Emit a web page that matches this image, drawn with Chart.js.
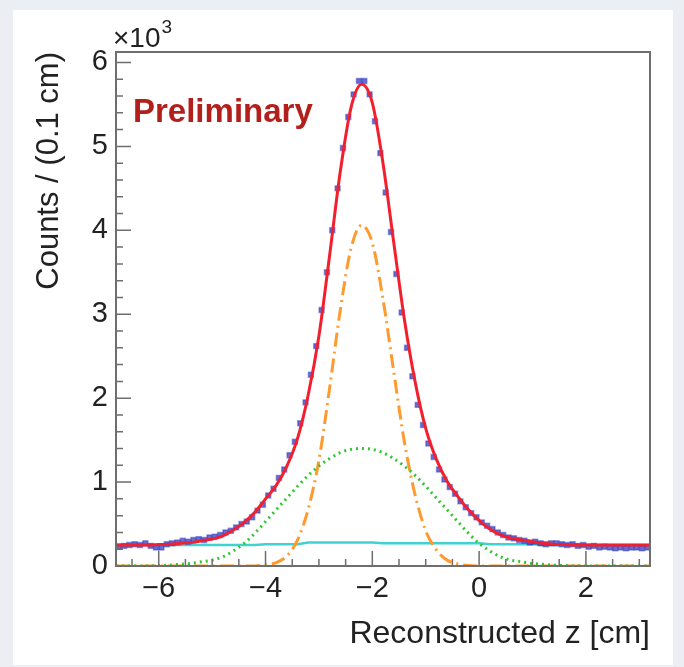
<!DOCTYPE html>
<html>
<head>
<meta charset="utf-8">
<script src="https://cdn.jsdelivr.net/npm/chart.js@4.4.1/dist/chart.umd.min.js"></script>
<style>
  html, body { margin: 0; padding: 0; background: #ebeef3; }
  #wrap { width: 684px; height: 667px; }
</style>
</head>
<body>
<div id="wrap"><canvas id="zChart" width="684" height="667"></canvas></div>
<script>
// histogram bin centres (0.1 cm bins) and counts
const binCenters = [
  -6.75, -6.65, -6.55, -6.45, -6.35, -6.25, -6.15, -6.05, -5.95, -5.85,
  -5.75, -5.65, -5.55, -5.45, -5.35, -5.25, -5.15, -5.05, -4.95, -4.85,
  -4.75, -4.65, -4.55, -4.45, -4.35, -4.25, -4.15, -4.05, -3.95, -3.85,
  -3.75, -3.65, -3.55, -3.45, -3.35, -3.25, -3.15, -3.05, -2.95, -2.85,
  -2.75, -2.65, -2.55, -2.45, -2.35, -2.25, -2.15, -2.05, -1.95, -1.85,
  -1.75, -1.65, -1.55, -1.45, -1.35, -1.25, -1.15, -1.05, -0.95, -0.85,
  -0.75, -0.65, -0.55, -0.45, -0.35, -0.25, -0.15, -0.05, 0.05, 0.15,
  0.25, 0.35, 0.45, 0.55, 0.65, 0.75, 0.85, 0.95, 1.05, 1.15,
  1.25, 1.35, 1.45, 1.55, 1.65, 1.75, 1.85, 1.95, 2.05, 2.15,
  2.25, 2.35, 2.45, 2.55, 2.65, 2.75, 2.85, 2.95, 3.05, 3.15
];
const counts = [
  230, 240, 250, 260, 250, 270, 240, 220, 220, 260,
  270, 280, 300, 290, 310, 320, 310, 340, 350, 370,
  400, 420, 460, 500, 530, 580, 660, 730, 840, 920,
  1050, 1150, 1320, 1480, 1700, 1950, 2280, 2620, 3050, 3500,
  4000, 4500, 4980, 5350, 5620, 5780, 5780, 5620, 5300, 4920,
  4450, 3980, 3480, 3020, 2600, 2260, 1920, 1680, 1460, 1300,
  1150, 1030, 940, 860, 770, 700, 630, 580, 520, 480,
  440, 400, 370, 340, 330, 310, 300, 280, 290, 270,
  260, 270, 270, 260, 250, 260, 240, 250, 230, 240,
  220, 230, 220, 210, 220, 210, 220, 220, 210, 220
];

// fit curves sampled every 0.2 cm
const curveX = [
  -6.8, -6.6, -6.4, -6.2, -6.0, -5.8, -5.6, -5.4, -5.2, -5.0,
  -4.8, -4.6, -4.4, -4.2, -4.0, -3.8, -3.6, -3.4, -3.2, -3.0,
  -2.8, -2.6, -2.4, -2.2, -2.0, -1.8, -1.6, -1.4, -1.2, -1.0,
  -0.8, -0.6, -0.4, -0.2, 0.0, 0.2, 0.4, 0.6, 0.8, 1.0,
  1.2, 1.4, 1.6, 1.8, 2.0, 2.2, 2.4, 2.6, 2.8, 3.0, 3.2
];
const fitTotal = [
  250, 250, 250, 250, 255, 260, 270, 280, 300, 320,
  360, 430, 520, 640, 800, 960, 1190, 1520, 2040, 2740,
  3700, 4700, 5460, 5740, 5520, 4800, 3860, 2940, 2200, 1640,
  1270, 1010, 830, 670, 540, 440, 370, 330, 310, 290,
  270, 260, 255, 250, 250, 250, 250, 250, 250, 250, 250
];
const fitNarrow = [
  0, 0, 0, 0, 0, 0, 0, 0, 0, 0,
  0, 0, 0, 0, 15, 40, 120, 310, 680, 1260,
  2120, 3050, 3780, 4060, 3850, 3180, 2320, 1480, 850, 420,
  190, 70, 25, 5, 0, 0, 0, 0, 0, 0,
  0, 0, 0, 0, 0, 0, 0, 0, 0, 0, 0
];
const fitWide = [
  0, 0, 0, 0, 5, 10, 20, 30, 50, 70,
  110, 180, 270, 390, 530, 670, 810, 950, 1080, 1190,
  1280, 1350, 1390, 1400, 1390, 1350, 1280, 1190, 1080, 950,
  810, 670, 530, 390, 270, 180, 110, 70, 50, 30,
  20, 10, 5, 0, 0, 0, 0, 0, 0, 0, 0
];
const fitBackground = [
  250, 250, 250, 250, 250, 250, 250, 250, 250, 250,
  250, 250, 250, 250, 260, 260, 260, 260, 280, 280,
  280, 280, 280, 280, 280, 270, 270, 270, 270, 270,
  270, 270, 270, 270, 270, 260, 260, 260, 260, 260,
  250, 250, 250, 250, 250, 250, 250, 250, 250, 250, 250
];

const xTickValues = [-6, -4, -2, 0, 2];
const yTickValues = [0, 1000, 2000, 3000, 4000, 5000, 6000];

const FONT = '"Liberation Sans", Arial, Helvetica, sans-serif';
const axisColor = '#6e6e6e';

function pts(xs, ys) {
  return xs.map((x, i) => ({ x: x, y: ys[i] }));
}

// grey page + white card behind the plot
const panelPlugin = {
  id: 'panel',
  beforeDraw(chart) {
    const c = chart.ctx;
    c.save();
    c.fillStyle = '#ebeef3';
    c.fillRect(0, 0, chart.width, chart.height);
    c.fillStyle = '#ffffff';
    c.fillRect(13, 10, 660, 655);
    c.restore();
  }
};

// ROOT style frame with ticks pointing inwards, plus the labels on the pad
const framePlugin = {
  id: 'frame',
  afterDatasetsDraw(chart) {
    const { ctx: c, chartArea: a, scales: { x, y } } = chart;
    c.save();
    c.strokeStyle = axisColor;
    c.lineWidth = 1.5;
    c.beginPath();
    for (let v = -6.5; v <= 3.01; v += 0.5) {
      const px = x.getPixelForValue(v);
      const len = xTickValues.includes(Math.round(v * 10) / 10) ? 15 : 7;
      c.moveTo(px, a.bottom);
      c.lineTo(px, a.bottom - len);
    }
    for (let v = 200; v <= 6000; v += 200) {
      const py = y.getPixelForValue(v);
      const len = yTickValues.includes(v) ? 15 : 7;
      c.moveTo(a.left, py);
      c.lineTo(a.left + len, py);
    }
    c.stroke();
    c.lineWidth = 2;
    c.strokeRect(a.left, a.top, a.right - a.left, a.bottom - a.top);

    c.fillStyle = '#b3201c';
    c.font = 'bold 33px ' + FONT;
    c.textBaseline = 'alphabetic';
    c.fillText('Preliminary', 133, 122);

    c.fillStyle = '#222222';
    c.font = '28px ' + FONT;
    c.fillText('\u00d710', 113, 47);
    const w = c.measureText('\u00d710').width;
    c.font = '19px ' + FONT;
    c.fillText('3', 113 + w + 1, 33);
    c.restore();
  }
};

const ctx = document.getElementById('zChart').getContext('2d');

new Chart(ctx, {
  type: 'line',
  data: {
    datasets: [
      {
        label: 'wide',
        data: pts(curveX, fitWide),
        borderColor: '#2ec82e',
        borderWidth: 3,
        borderDash: [2, 4],
        pointRadius: 0,
        cubicInterpolationMode: 'monotone',
        order: 1
      },
      {
        label: 'narrow',
        data: pts(curveX, fitNarrow),
        borderColor: '#ff9a30',
        borderWidth: 3,
        borderDash: [14, 5, 2, 5],
        pointRadius: 0,
        cubicInterpolationMode: 'monotone',
        order: 2
      },
      {
        label: 'total',
        data: pts(curveX, fitTotal),
        borderColor: '#f2202e',
        borderWidth: 3,
        pointRadius: 0,
        cubicInterpolationMode: 'monotone',
        order: 3
      },
      {
        label: 'data',
        data: pts(binCenters, counts),
        showLine: false,
        pointStyle: 'rect',
        pointRadius: 3.5,
        backgroundColor: 'rgba(40,50,190,0.7)',
        borderColor: 'rgba(40,50,190,0.45)',
        borderWidth: 1.5,
        order: 4
      },
      {
        label: 'background',
        data: pts(curveX, fitBackground),
        borderColor: '#3fd2d2',
        borderWidth: 2.5,
        pointRadius: 0,
        order: 5
      }
    ]
  },
  options: {
    responsive: false,
    animation: false,
    layout: { padding: { top: 52, right: 34, left: 0, bottom: 0 } },
    plugins: { legend: { display: false }, tooltip: { enabled: false } },
    scales: {
      x: {
        type: 'linear',
        min: -6.8,
        max: 3.2,
        afterFit: s => { s.height = 101; },
        afterBuildTicks: s => { s.ticks = xTickValues.map(v => ({ value: v })); },
        grid: { display: false, drawTicks: false },
        border: { display: false },
        ticks: {
          color: '#222222',
          font: { family: FONT, size: 29 },
          padding: 6,
          maxRotation: 0,
          autoSkip: false,
          callback: v => String(v).replace('-', '\u2212')
        },
        title: {
          display: true,
          text: 'Reconstructed z [cm]',
          align: 'end',
          color: '#222222',
          font: { family: FONT, size: 32 },
          padding: { top: 0, bottom: 14 }
        }
      },
      y: {
        min: 0,
        max: 6125,
        afterFit: s => { s.width = 116; },
        afterBuildTicks: s => { s.ticks = yTickValues.map(v => ({ value: v })); },
        grid: { display: false, drawTicks: false },
        border: { display: false },
        ticks: {
          color: '#222222',
          font: { family: FONT, size: 29 },
          padding: 8,
          callback: v => String(v / 1000)
        },
        title: {
          display: true,
          text: 'Counts / (0.1 cm)',
          align: 'end',
          color: '#222222',
          font: { family: FONT, size: 31 },
          padding: { top: 31, bottom: 0 }
        }
      }
    }
  },
  plugins: [panelPlugin, framePlugin]
});
</script>
</body>
</html>
